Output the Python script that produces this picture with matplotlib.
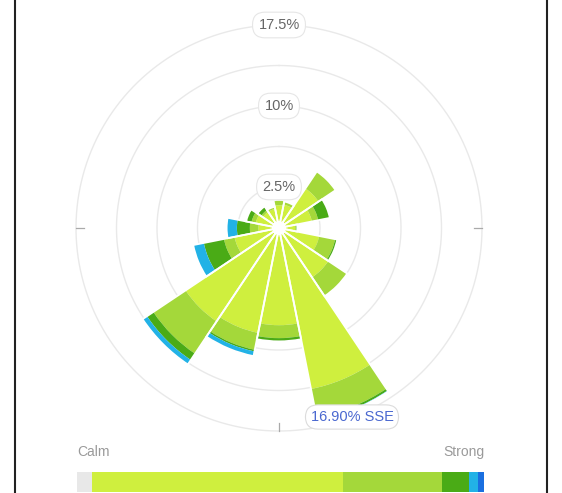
import numpy as np
import matplotlib.pyplot as plt
from matplotlib.lines import Line2D

plt.rcParams['font.family'] = ['Liberation Sans', 'DejaVu Sans']

# direcciones (16 rumbos) y frecuencias (%) por clase de velocidad
directions = ['N', 'NNE', 'NE', 'ENE', 'E', 'ESE', 'SE', 'SSE',
              'S', 'SSW', 'SW', 'WSW', 'W', 'WNW', 'NW', 'NNW']
speed_1 = [0.8, 0.9, 3.1, 1.8, 0.2, 2.5, 4.2, 13.9, 7.7, 8.6, 9.1, 2.9, 0.6, 0.9, 0.5, 0.5]
speed_2 = [0.5, 0.3, 1.9, 0.6, 0.1, 1.5, 2.1, 2.7, 1.2, 1.6, 3.6, 1.0, 0.8, 0.4, 0.2, 0.2]
speed_3 = [0.0, 0.0, 0.0, 1.1, 0.1, 0.2, 0.0, 0.2, 0.3, 0.15, 0.7, 1.9, 1.2, 0.5, 0.4, 0.0]
speed_4 = [0.0, 0.0, 0.0, 0.0, 0.0, 0.0, 0.0, 0.1, 0.0, 0.45, 0.5, 1.0, 0.95, 0.0, 0.0, 0.0]

# ejes radiales
radial_ticks = [2.5, 6.25, 10, 13.75, 17.5]
radial_labels = ['2.5%', '', '10%', '', '17.5%']

# leyenda (Calm -> Strong), partes de la barra
legend_shares = [3.7, 61.7, 24.3, 6.6, 2.2, 1.5]

tooltip_text = '16.90% SSE'

colors = ['#cfef3e', '#a4d83a', '#4aab16', '#22b2e6']
legend_colors = ['#e8e8e8', '#cfef3e', '#a4d83a', '#4aab16', '#22b2e6', '#1a6fe0']

W, H = 562, 493
fig = plt.figure(figsize=(W / 100, H / 100), dpi=100)

# area polar
cx, cy, R = 279, 228, 203
ax = fig.add_axes([(cx - R) / W, 1 - (cy + R) / H, 2 * R / W, 2 * R / H],
                  projection='polar')
ax.set_theta_zero_location('N')
ax.set_theta_direction(-1)
ax.set_ylim(-1.3, 17.5)

theta = np.deg2rad(np.arange(len(directions)) * 22.5)
width = np.deg2rad(22.5)
base = -0.75

bottom = np.full(len(directions), base)
for vals, col in zip([speed_1, speed_2, speed_3, speed_4], colors):
    top = np.array(vals, dtype=float)
    if col == colors[0]:
        top = top - base
    ax.bar(theta, top, width=width, bottom=bottom, color=col,
           edgecolor='none', zorder=3)
    bottom = bottom + top

# separadores blancos entre sectores
ax.bar(theta, bottom - base, width=width, bottom=base, fill=False,
       edgecolor='white', linewidth=1.3, zorder=4)

ax.set_yticks(radial_ticks)
ax.set_yticklabels([])
ax.set_xticks([])
ax.grid(False)
t = np.linspace(0, 2 * np.pi, 400)
for r in radial_ticks:
    ax.plot(t, np.full_like(t, r), color='#e9e9e9', lw=1.0, zorder=1, clip_on=False)
ax.spines['polar'].set_visible(False)

for r, lab in zip(radial_ticks, radial_labels):
    if lab:
        ax.text(0, r, lab, ha='center', va='center', fontsize=10.5,
                color='#666666', zorder=6,
                bbox=dict(boxstyle='round,pad=0.4,rounding_size=0.85',
                          fc='white', ec='#e6e6e6', lw=0.8))

# marcas cardinales
for ang in [90, 180, 270]:
    ax.plot([np.deg2rad(ang)] * 2, [16.75, 17.5], color='#aaaaaa', lw=0.9,
            zorder=2, clip_on=False)

# tooltip
fig.text(352 / W, 1 - 417 / H, tooltip_text, ha='center', va='center',
         fontsize=10.5, color='#4a68d0', zorder=10,
         bbox=dict(boxstyle='round,pad=0.35,rounding_size=0.85',
                   fc='white', ec='#dcdcdc', lw=0.8))

# leyenda
fig.text(77 / W, 1 - 452 / H, 'Calm', ha='left', va='center', fontsize=10, color='#9a9a9a')
fig.text(484 / W, 1 - 452 / H, 'Strong', ha='right', va='center', fontsize=10, color='#9a9a9a')

lax = fig.add_axes([77 / W, 1 - 492 / H, 407 / W, 20 / H])
left = 0
for share, col in zip(legend_shares, legend_colors):
    lax.barh(0, share, left=left, height=1, color=col, edgecolor='none')
    left += share
lax.set_xlim(0, sum(legend_shares))
lax.set_ylim(-0.5, 0.5)
lax.axis('off')

# bordes
fig.add_artist(Line2D([15 / W, 15 / W], [0, 1], color='#222222', lw=1.5))
fig.add_artist(Line2D([547 / W, 547 / W], [0, 1], color='#222222', lw=1.5))

fig.savefig('out.png', dpi=100)
